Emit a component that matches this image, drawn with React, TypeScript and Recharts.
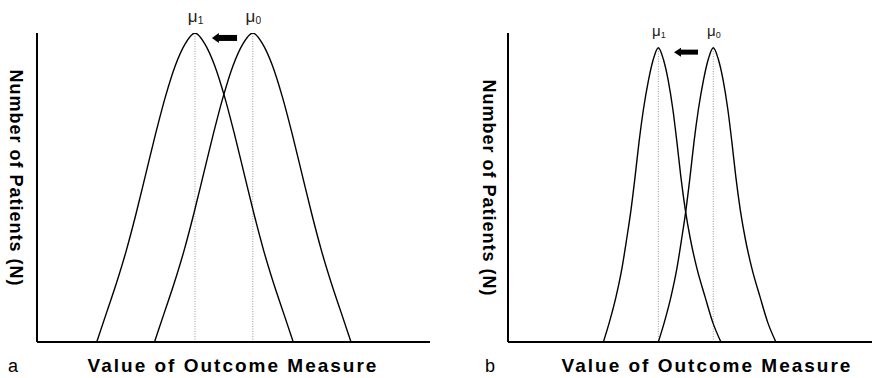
import React from 'react';
import { LineChart, Line, XAxis, YAxis, ReferenceLine } from 'recharts';

const FONT = '"Liberation Sans", Arial, Helvetica, sans-serif';

// panel a – broad distributions (x in % of axis length, y in % of peak)
const aShiftedX = [15.2, 17.7, 20.2, 22.7, 25.2, 27.7, 30.2, 32.7, 35.2, 37.7, 40.2, 42.7, 45.2, 47.7, 50.2, 52.7, 55.2, 57.7, 60.2, 62.7, 65.2];
const aShiftedY = [0, 9.5, 19, 29.5, 41.5, 54.5, 67.5, 79.5, 89.5, 96.5, 100, 96.5, 89.5, 79.5, 67.5, 54.5, 41.5, 29.5, 19, 9.5, 0];
const aBaseX = [29.9, 32.4, 34.9, 37.4, 39.9, 42.4, 44.9, 47.4, 49.9, 52.4, 54.9, 57.4, 59.9, 62.4, 64.9, 67.4, 69.9, 72.4, 74.9, 77.4, 79.9];
const aBaseY = [0, 9.5, 19, 29.5, 41.5, 54.5, 67.5, 79.5, 89.5, 96.5, 100, 96.5, 89.5, 79.5, 67.5, 54.5, 41.5, 29.5, 19, 9.5, 0];
const aMeans = [40.2, 54.9];
const aArrowX = [50.9, 44.5];
const aArrowLevel = 98.4;

// panel b – narrow distributions
const bShiftedX = [26.2, 27.8, 29.7, 31.3, 32.6, 33.8, 34.9, 36.0, 37.2, 38.6, 39.9, 41.3, 42.7, 44.0, 45.3, 46.4, 47.5, 48.7, 50.1, 51.9, 54.1, 56.3, 58.5];
const bShiftedY = [0, 6.5, 15.5, 25, 35, 45, 56, 68, 79, 89, 96, 100, 96, 89, 79, 68, 56, 45, 35, 25, 15.5, 6.5, 0];
const bBaseX = [41.3, 42.9, 44.8, 46.4, 47.7, 48.9, 50.0, 51.1, 52.3, 53.7, 55.0, 56.4, 57.8, 59.1, 60.4, 61.5, 62.6, 63.8, 65.2, 67.0, 69.2, 71.4, 73.6];
const bBaseY = [0, 6.5, 15.5, 25, 35, 45, 56, 68, 79, 89, 96, 100, 96, 89, 79, 68, 56, 45, 35, 25, 15.5, 6.5, 0];
const bMeans = [41.3, 56.4];
const bArrowX = [52.2, 45.6];
const bArrowLevel = 98.5;

const meanLabels = ['1', '0'];
const xTitle = 'Value of Outcome Measure';
const yTitle = 'Number of Patients (N)';

const toPoints = (xs: number[], ys: number[]) => xs.map((x, i) => ({ x, y: ys[i] }));

const arrowShape = (bar: number, head: number, headLen: number) => (p: any) => {
  const tail = Math.max(p.x1, p.x2);
  const tip = Math.min(p.x1, p.x2);
  const y = p.y1;
  return (
    <g>
      <rect x={tip + headLen - 0.5} y={y - bar / 2} width={tail - tip - headLen + 0.5} height={bar} fill="#000" />
      <polygon points={`${tip},${y} ${tip + headLen},${y - head / 2} ${tip + headLen},${y + head / 2}`} fill="#000" />
    </g>
  );
};

interface PanelProps {
  left: number;
  marginLeft: number;
  marginRight: number;
  yMax: number;
  shifted: { x: number; y: number }[];
  base: { x: number; y: number }[];
  means: number[];
  arrowX: number[];
  arrowLevel: number;
  letter: string;
  letterX: number;
  xTitleCx: number;
  yTitleX: number;
  yTitleCy: number;
  muSize: number;
  muLift: number;
  bar: number;
  head: number;
}

const Panel: React.FC<PanelProps> = (p) => {
  const muLabel = (sub: string) => ({ viewBox }: any) => (
    <text x={viewBox.x - p.muSize * 0.42} y={viewBox.y - p.muLift} fontFamily={FONT} fontSize={p.muSize} fill="#222">
      μ<tspan fontSize={p.muSize * 0.6} dy={2}>{sub}</tspan>
    </text>
  );

  return (
    <div style={{ position: 'absolute', left: p.left, top: 0 }}>
      {/* axis width/height of 1px: recharts skips axes that are 0 wide */}
      <LineChart width={436} height={378} margin={{ top: 33, right: p.marginRight, bottom: 35, left: p.marginLeft - 1 }}>
        <XAxis
          dataKey="x"
          type="number"
          domain={[0, 100]}
          allowDataOverflow
          height={1}
          tick={false}
          tickLine={false}
          axisLine={{ stroke: '#000', strokeWidth: 2 }}
          label={{
            content: () => (
              <g>
                <text x={p.xTitleCx} y={372} textAnchor="middle" fontFamily={FONT} fontWeight="bold" fontSize={19} letterSpacing={2} fill="#000">
                  {xTitle}
                </text>
                <text x={p.letterX} y={372} fontFamily={FONT} fontSize={18} fill="#000">{p.letter}</text>
              </g>
            ),
          }}
        />
        <YAxis
          type="number"
          domain={[0, p.yMax]}
          allowDataOverflow
          width={1}
          tick={false}
          tickLine={false}
          axisLine={{ stroke: '#000', strokeWidth: 2 }}
          label={{
            content: () => (
              <text
                transform={`translate(${p.yTitleX},${p.yTitleCy}) rotate(90)`}
                textAnchor="middle"
                fontFamily={FONT}
                fontWeight="bold"
                fontSize={18}
                letterSpacing={1}
                fill="#000"
              >
                {yTitle}
              </text>
            ),
          }}
        />
        {p.means.map((m, i) => (
          <ReferenceLine
            key={m}
            segment={[{ x: m, y: 0 }, { x: m, y: 100 }]}
            stroke="#9a9a9a"
            strokeWidth={1}
            strokeDasharray="1 1.5"
            label={{ content: muLabel(meanLabels[i]) }}
          />
        ))}
        <ReferenceLine
          segment={[{ x: p.arrowX[0], y: p.arrowLevel }, { x: p.arrowX[1], y: p.arrowLevel }]}
          shape={arrowShape(p.bar, p.head, 7)}
        />
        <Line data={p.shifted} dataKey="y" type="monotone" stroke="#000" strokeWidth={1.4} dot={false} activeDot={false} isAnimationActive={false} />
        <Line data={p.base} dataKey="y" type="monotone" stroke="#000" strokeWidth={1.4} dot={false} activeDot={false} isAnimationActive={false} />
      </LineChart>
    </div>
  );
};

export default function App() {
  return (
    <div style={{ position: 'absolute', left: 0, top: 0, width: 872, height: 378, background: '#fff', overflow: 'hidden' }}>
      <Panel
        left={0}
        marginLeft={37}
        marginRight={6}
        yMax={100}
        shifted={toPoints(aShiftedX, aShiftedY)}
        base={toPoints(aBaseX, aBaseY)}
        means={aMeans}
        arrowX={aArrowX}
        arrowLevel={aArrowLevel}
        letter="a"
        letterX={8}
        xTitleCx={233}
        yTitleX={9.5}
        yTitleCy={178}
        muSize={17}
        muLift={11}
        bar={6}
        head={10}
      />
      <Panel
        left={436}
        marginLeft={72}
        marginRight={0}
        yMax={105}
        shifted={toPoints(bShiftedX, bShiftedY)}
        base={toPoints(bBaseX, bBaseY)}
        means={bMeans}
        arrowX={bArrowX}
        arrowLevel={bArrowLevel}
        letter="b"
        letterX={49}
        xTitleCx={271}
        yTitleX={46.5}
        yTitleCy={188}
        muSize={15}
        muLift={12}
        bar={5}
        head={9}
      />
    </div>
  );
}
